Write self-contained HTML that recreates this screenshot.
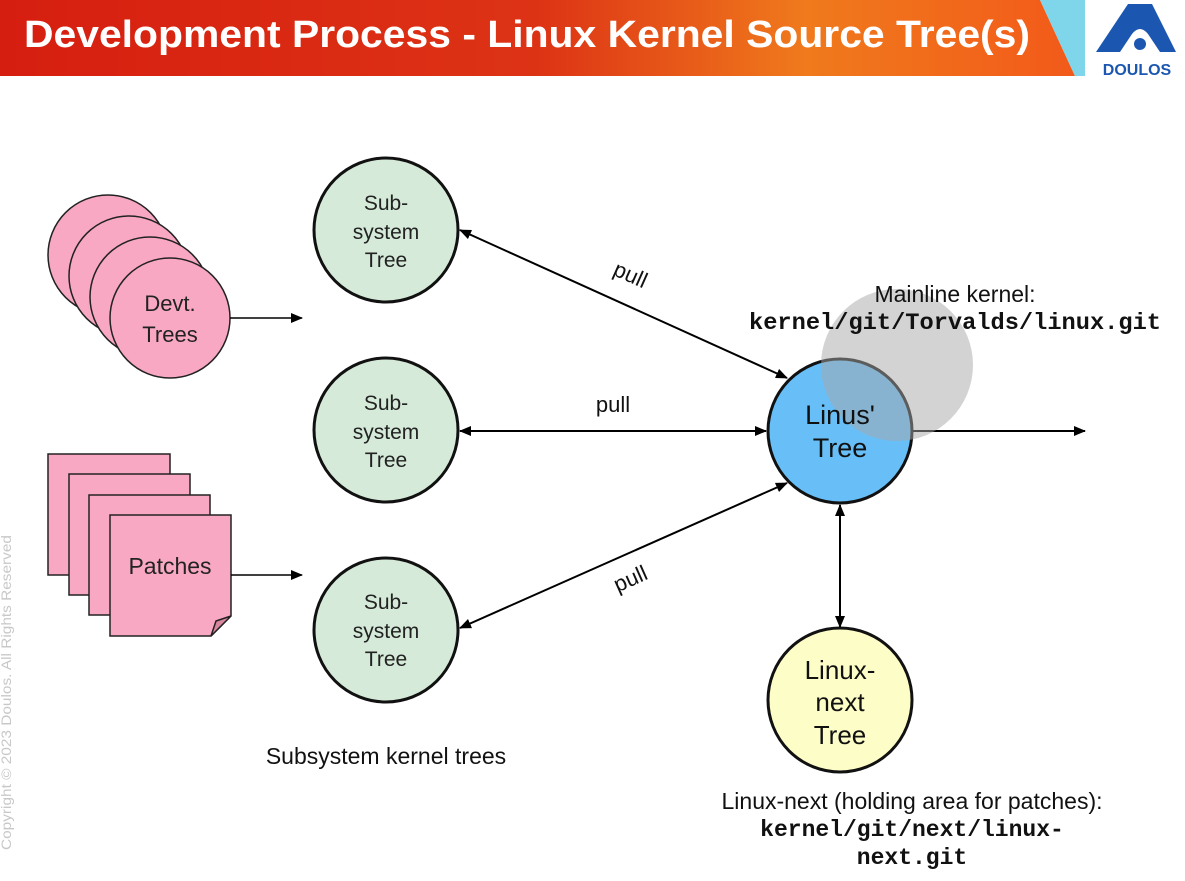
<!DOCTYPE html>
<html><head><meta charset="utf-8"><style>
html,body{margin:0;padding:0;background:#fff;}
body{width:1185px;height:876px;overflow:hidden;}
.s{font-family:"Liberation Sans",sans-serif;}
.m{font-family:"Liberation Mono",monospace;font-weight:bold;}
</style></head><body>
<svg width="1185" height="876" viewBox="0 0 1185 876" xmlns="http://www.w3.org/2000/svg">
<defs>
<linearGradient id="hg" x1="0" x2="1" y1="0" y2="0">
<stop offset="0" stop-color="#d61e10"/><stop offset="0.5" stop-color="#dd3315"/><stop offset="0.75" stop-color="#f07a1c"/><stop offset="1" stop-color="#f25a1a"/>
</linearGradient>
<marker id="ah" markerWidth="12" markerHeight="10" refX="11" refY="5" orient="auto-start-reverse" markerUnits="userSpaceOnUse">
<path d="M0,0 L12,5 L0,10 z" fill="#000"/></marker>
</defs>
<rect x="0" y="0" width="1185" height="876" fill="#fff"/>
<polygon points="0,0 1040,0 1075,76 0,76" fill="url(#hg)"/>
<polygon points="1040,0 1085,0 1085,76 1075,76" fill="#7fd6ea"/>
<text class="s" x="24" y="47" font-size="38" font-weight="bold" fill="#fff" textLength="1006" lengthAdjust="spacingAndGlyphs">Development Process - Linux Kernel Source Tree(s)</text>
<path d="M1128,4 L1152,4 L1176,52 L1160,52 L1148,34 Q1140,24 1132,34 L1120,52 L1096,52 Z" fill="#1b57b0"/>
<circle cx="1140" cy="44" r="6" fill="#1b57b0"/>
<text class="s" x="1137" y="75" font-size="16" font-weight="bold" fill="#1b57b0" text-anchor="middle">DOULOS</text>
<text class="s" transform="translate(11,850) rotate(-90)" font-size="14" fill="#c8c8c8" textLength="315" lengthAdjust="spacingAndGlyphs">Copyright © 2023 Doulos. All Rights Reserved</text>

<g fill="#f9a8c4" stroke="#222" stroke-width="1.5">
<circle cx="108" cy="255" r="60"/><circle cx="129" cy="276" r="60"/><circle cx="150" cy="297" r="60"/><circle cx="170" cy="318" r="60"/>
</g>
<text class="s" x="170" y="311" font-size="22" text-anchor="middle" fill="#222">Devt.</text>
<text class="s" x="170" y="342" font-size="22" text-anchor="middle" fill="#222">Trees</text>
<line x1="230" y1="318" x2="302" y2="318" stroke="#000" stroke-width="1.5" marker-end="url(#ah)"/>

<g fill="#f9a8c4" stroke="#222" stroke-width="1.5">
<rect x="48" y="454" width="122" height="121"/><rect x="69" y="474" width="121" height="121"/><rect x="89" y="495" width="121" height="120"/>
<path d="M110,515 L231,515 L231,616 L211,636 L110,636 Z"/>
<path d="M231,616 L216,621 L211,636 Z" fill="#d9879f"/>
</g>
<text class="s" x="170" y="574" font-size="23" text-anchor="middle" fill="#222">Patches</text>
<line x1="231" y1="575" x2="302" y2="575" stroke="#000" stroke-width="1.5" marker-end="url(#ah)"/>

<g fill="#d5ead8" stroke="#111" stroke-width="3">
<circle cx="386" cy="230" r="72"/><circle cx="386" cy="430" r="72"/><circle cx="386" cy="630" r="72"/>
</g>
<g class="s" font-size="21" text-anchor="middle" fill="#222">
<text class="s" x="386" y="210">Sub-</text><text class="s" x="386" y="239">system</text><text class="s" x="386" y="267">Tree</text>
<text class="s" x="386" y="410">Sub-</text><text class="s" x="386" y="439">system</text><text class="s" x="386" y="467">Tree</text>
<text class="s" x="386" y="609">Sub-</text><text class="s" x="386" y="638">system</text><text class="s" x="386" y="666">Tree</text>
</g>

<g stroke="#000" stroke-width="2">
<line x1="460" y1="230" x2="787" y2="378" marker-start="url(#ah)" marker-end="url(#ah)"/>
<line x1="460" y1="431" x2="766" y2="431" marker-start="url(#ah)" marker-end="url(#ah)"/>
<line x1="460" y1="628" x2="787" y2="483" marker-start="url(#ah)" marker-end="url(#ah)"/>
<line x1="840" y1="505" x2="840" y2="627" marker-start="url(#ah)" marker-end="url(#ah)"/>
<line x1="912" y1="431" x2="1085" y2="431" marker-end="url(#ah)"/>
</g>
<g font-size="22" fill="#111" text-anchor="middle">
<text class="s" x="630" y="282" transform="rotate(24 630 276)">pull</text>
<text class="s" x="613" y="412">pull</text>
<text class="s" x="631" y="586" transform="rotate(-24 631 580)">pull</text>
</g>

<circle cx="840" cy="431" r="72" fill="#68bff8" stroke="#111" stroke-width="3"/>
<circle cx="897" cy="365" r="76" fill="#a8a8a8" fill-opacity="0.5"/>
<text class="s" x="840" y="424" font-size="27" text-anchor="middle" fill="#111">Linus'</text>
<text class="s" x="840" y="457" font-size="27" text-anchor="middle" fill="#111">Tree</text>
<text class="s" x="955" y="302" font-size="23" text-anchor="middle" fill="#111">Mainline kernel:</text>
<text class="m" x="955" y="329" font-size="23" text-anchor="middle" fill="#111" textLength="412" lengthAdjust="spacingAndGlyphs">kernel/git/Torvalds/linux.git</text>

<circle cx="840" cy="700" r="72" fill="#fdfdc8" stroke="#111" stroke-width="3"/>
<g font-size="26" text-anchor="middle" fill="#111">
<text class="s" x="840" y="679">Linux-</text><text class="s" x="840" y="711">next</text><text class="s" x="840" y="744">Tree</text>
</g>
<text class="s" x="386" y="764" font-size="23" text-anchor="middle" fill="#111">Subsystem kernel trees</text>
<text class="s" x="912" y="809" font-size="23" text-anchor="middle" fill="#111">Linux-next (holding area for patches):</text>
<text class="m" x="912" y="836" font-size="23" text-anchor="middle" fill="#111">kernel/git/next/linux-</text>
<text class="m" x="912" y="864" font-size="23" text-anchor="middle" fill="#111">next.git</text>
</svg>
</body></html>
